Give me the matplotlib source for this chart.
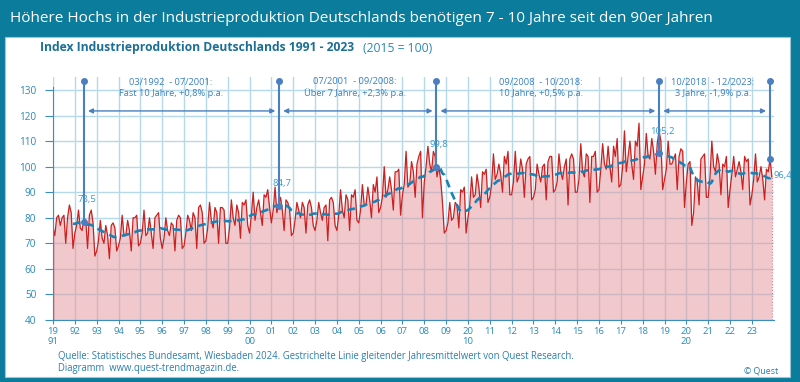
import numpy as np
import pandas as pd
import matplotlib
matplotlib.use('Agg')
import matplotlib.pyplot as plt
from matplotlib.patches import Rectangle

plt.rcParams['font.family'] = ['Open Sans', 'DejaVu Sans']

# Index Industrieproduktion Deutschland, Monatswerte Jan 1991 - Dez 2023 (2015 = 100)
start_year = 1991
ip_values = [
    76, 73, 80, 81, 77, 80, 81, 70, 80, 85, 82, 68,        # 1991
    74, 77, 83, 76, 75, 80, 79, 68, 81, 83, 78, 65,        # 1992
    67, 71, 79, 72, 70, 77, 73, 64, 77, 78, 76, 67,        # 1993
    69, 72, 81, 73, 73, 79, 75, 67, 80, 80, 81, 69,        # 1994
    70, 74, 83, 73, 74, 80, 74, 68, 80, 81, 82, 72,        # 1995
    68, 72, 80, 75, 73, 78, 77, 67, 79, 81, 80, 68,        # 1996
    69, 74, 81, 79, 75, 82, 80, 68, 84, 85, 82, 70,        # 1997
    71, 76, 86, 79, 76, 84, 82, 70, 84, 84, 83, 70,        # 1998
    70, 76, 87, 80, 77, 85, 82, 72, 86, 85, 87, 77,        # 1999
    74, 81, 90, 79, 84, 87, 82, 77, 89, 88, 91, 84,        # 2000
    78, 83, 92, 82, 85, 88, 83, 75, 87, 86, 83, 73,        # 2001
    74, 79, 86, 83, 80, 86, 84, 74, 85, 87, 84, 77,        # 2002
    75, 79, 86, 82, 79, 84, 85, 71, 87, 88, 86, 77,        # 2003
    75, 81, 91, 83, 80, 89, 87, 75, 89, 88, 91, 79,        # 2004
    78, 83, 93, 85, 85, 92, 87, 80, 93, 90, 96, 82,        # 2005
    84, 88, 100, 88, 91, 96, 91, 83, 98, 98, 99, 81,       # 2006
    89, 93, 106, 92, 93, 102, 98, 88, 101, 104, 106, 80,   # 2007
    94, 100, 108, 101, 98, 106, 104, 96, 100, 95, 86, 74,  # 2008
    75, 78, 86, 79, 80, 86, 85, 76, 91, 90, 92, 74,        # 2009
    80, 85, 96, 88, 89, 97, 92, 84, 98, 97, 99, 86,        # 2010
    88, 93, 105, 95, 97, 101, 97, 90, 104, 101, 106, 89,   # 2011
    89, 94, 106, 94, 96, 103, 99, 88, 101, 103, 104, 87,   # 2012
    88, 91, 101, 97, 94, 100, 101, 87, 102, 104, 104, 90,  # 2013
    91, 94, 105, 98, 95, 100, 103, 85, 103, 105, 103, 90,  # 2014
    90, 95, 109, 98, 96, 105, 104, 86, 104, 104, 106, 90,  # 2015
    91, 99, 109, 101, 99, 108, 100, 94, 108, 104, 111, 92, # 2016
    93, 100, 114, 98, 104, 110, 101, 95, 110, 108, 117, 91,  # 2017
    96, 101, 113, 104, 103, 111, 106, 97, 109, 114, 110, 91, # 2018
    95, 99, 110, 101, 101, 103, 105, 91, 104, 107, 106, 84,  # 2019
    94, 101, 102, 77, 82, 96, 94, 85, 103, 104, 105, 88,     # 2020
    88, 96, 110, 100, 98, 105, 101, 89, 101, 100, 104, 84,   # 2021
    91, 97, 104, 96, 99, 102, 98, 91, 104, 102, 103, 85,     # 2022
    89, 95, 105, 94, 96, 100, 95, 87, 99, 98, 103, 96,       # 2023
]

# Markierte Hochs (Position in Jahren, Wert) und Zeitraeume
peak_x = [1992.42, 2001.36, 2008.56, 2018.76, 2023.83]
peak_val = [78.5, 84.7, 99.8, 105.2, 103.0]
peak_labels = ['78,5', '84,7', '99,8', '105,2', '']
period_labels = [
    '03/1992  - 07/2001:\nFast 10 Jahre, +0,8% p.a.',
    '07/2001  - 09/2008:\nÜber 7 Jahre, +2,3% p.a.',
    '09/2008  - 10/2018:\n10 Jahre, +0,5% p.a.',
    '10/2018  - 12/2023:\n3 Jahre, -1,9% p.a.',
]
period_text_x = [1996.4, 2004.83, 2013.34, 2021.22]
end_label = '96,4'

year_ticks = list(range(1991, 2024))
year_labels = ['19\n91', '92', '93', '94', '95', '96', '97', '98', '99', '20\n00',
               '01', '02', '03', '04', '05', '06', '07', '08', '09', '20\n10',
               '11', '12', '13', '14', '15', '16', '17', '18', '19', '20\n20',
               '21', '22', '23']

x = start_year + np.arange(len(ip_values)) / 12.0
ma = pd.Series(ip_values).rolling(12).mean().values

teal = '#0b7c9b'
tick_col = '#2b8ab8'
ann_col = '#4a7fc2'

fig = plt.figure(figsize=(8, 3.82), dpi=100)
fig.patch.set_facecolor(teal)
fig.add_artist(Rectangle((5 / 800, 5 / 382), 785 / 800, 340 / 382, transform=fig.transFigure,
                         facecolor='white', edgecolor='#9cc6d8', lw=0.8, zorder=-10))

fig.text(10 / 800, 1 - 18 / 382, 'Höhere Hochs in der Industrieproduktion Deutschlands benötigen 7 - 10 Jahre seit den 90er Jahren',
         color='white', fontsize=10.95, ha='left', va='center')
fig.text(40 / 800, 1 - 48 / 382, 'Index Industrieproduktion Deutschlands 1991 - 2023',
         color='#1b6f96', fontsize=8.7, fontweight='bold', ha='left', va='center')
fig.text(363 / 800, 1 - 48 / 382, '(2015 = 100)', color='#2b87b6', fontsize=8.7, ha='left', va='center')

ax = fig.add_axes([53 / 800, 62 / 382, 720.7 / 800, 242.8 / 382])
ax.set_facecolor('white')
ax.set_xlim(1991, 2024)
ax.set_ylim(40, 135)
ax.set_xticks(year_ticks)
ax.set_xticklabels(year_labels)
ax.set_yticks(range(40, 140, 10))
ax.grid(True, color='#b5d9ea', lw=1)
ax.set_axisbelow(True)

ax.fill_between(x, 40, ip_values, color='#e59399', alpha=0.5, lw=0, zorder=1)
ax.plot(x, ip_values, color='#cc1f1f', lw=0.9, zorder=2)
ax.plot([x[0], x[0]], [40, ip_values[0]], color='#cc1f1f', lw=0.9, zorder=2)
ax.plot([x[-1], x[-1]], [40, ip_values[-1]], color='#e07a80', lw=0.8, ls=':', zorder=2)
ax.plot(x, ma, color='#1a82b4', lw=1.9, dashes=(3, 2), zorder=3)

top_y = 133.5
arrow_y = 121.8
for px, val, lab in zip(peak_x, peak_val, peak_labels):
    ax.plot([px, px], [val, top_y], color=ann_col, lw=1.5, clip_on=False, zorder=4)
    ax.plot([px, px], [val, top_y], 'o', color=ann_col, ms=4, clip_on=False, zorder=4)
    if lab:
        ax.annotate(lab, (px, val), xytext=(2, 16), textcoords='offset points',
                    ha='center', va='center', fontsize=6.8, color='#3c98c9', zorder=5)
ax.annotate(end_label, (x[-1], ma[-1]), xytext=(1.5, 0), textcoords='offset points',
            ha='left', va='center', fontsize=6.8, color='#3c98c9', annotation_clip=False)

for i, lab in enumerate(period_labels):
    ax.annotate('', xy=(peak_x[i + 1] - 0.18, arrow_y), xytext=(peak_x[i] + 0.18, arrow_y),
                arrowprops=dict(arrowstyle='<|-|>', color=ann_col, lw=1, mutation_scale=7,
                                shrinkA=0, shrinkB=0), zorder=4)
    ax.text(period_text_x[i], 130.9, lab, ha='center', va='center', fontsize=6.7,
            color='#3a80c0', linespacing=1.3, zorder=5)

for s in ['top', 'right']:
    ax.spines[s].set_visible(False)
ax.spines['left'].set_color('#3c8cc4')
ax.spines['left'].set_bounds(40, 131)
ax.spines['bottom'].set_color('#3c8cc4')
ax.tick_params(axis='x', colors='#3c8cc4', labelcolor=tick_col, labelsize=6.8, length=3, pad=2)
ax.tick_params(axis='y', colors='#3c8cc4', labelcolor=tick_col, labelsize=7.2, length=6, pad=6)

fig.text(58 / 800, 1 - 356 / 382,
         'Quelle: Statistisches Bundesamt, Wiesbaden 2024. Gestrichelte Linie gleitender Jahresmittelwert von Quest Research.',
         color='#2a7eb0', fontsize=6.85, ha='left', va='center')
fig.text(58 / 800, 1 - 369 / 382, 'Diagramm  www.quest-trendmagazin.de.',
         color='#2a7eb0', fontsize=6.85, ha='left', va='center')
fig.text(778 / 800, 1 - 371 / 382, '© Quest', color='#2a7eb0', fontsize=6.4, ha='right', va='center')

fig.savefig('out.png', dpi=100, facecolor=fig.get_facecolor())
